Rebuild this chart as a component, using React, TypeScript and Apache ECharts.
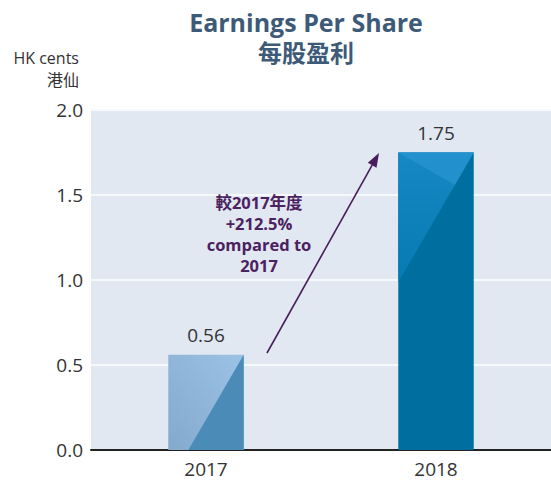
import React, { useEffect, useRef } from "react";
import * as echarts from "echarts";

const categories = ["2017", "2018"];
const epsValues = [0.56, 1.75];
const yTicks = { min: 0, max: 2, interval: 0.5 };
const titleLines = ["Earnings Per Share", "每股盈利"];
const unitLines = ["HK cents", "港仙"];
const noteLines = ["較2017年度", "+212.5%", "compared to", "2017"];

const FONT = "'Open Sans', 'Noto Sans CJK TC', sans-serif";

export default function App() {
  const ref = useRef<HTMLDivElement>(null);
  useEffect(() => {
    if (!ref.current) return;
    const chart = echarts.init(ref.current, undefined, { renderer: "svg" });
    const K = 1.72; // diagonal slope (px down per px left)

    const renderItem = (params: any, api: any) => {
      const idx = api.value(0);
      const val = api.value(1);
      const base = api.coord([idx, 0]);
      const top = api.coord([idx, val]);
      const band = api.size([1, 0])[0];
      const w = band * 0.328;
      const x0 = base[0] - w / 2;
      const x1 = base[0] + w / 2;
      const yT = top[1];
      const yB = base[1];
      const h = yB - yT;
      const children: any[] = [];
      if (params.dataIndex === 0) {
        children.push({
          type: "rect",
          shape: { x: x0, y: yT, width: w, height: h },
          style: {
            fill: new echarts.graphic.LinearGradient(1, 0, 0, 1, [
              { offset: 0, color: "#9cc2e5" },
              { offset: 1, color: "#83a9cd" },
            ]),
          },
        });
        const dx = h / K;
        children.push({
          type: "polygon",
          shape: { points: [[x1, yT], [x1, yB], [x1 - dx, yB]] },
          style: { fill: "#4a8cb7" },
        });
      } else {
        children.push({
          type: "rect",
          shape: { x: x0, y: yT, width: w, height: h },
          style: { fill: "#006f9f" },
        });
        const dy = w * K;
        children.push({
          type: "polygon",
          shape: { points: [[x0, yT], [x1, yT], [x0, yT + dy]] },
          style: {
            fill: new echarts.graphic.LinearGradient(0, 0, 0, 1, [
              { offset: 0, color: "#1688c4" },
              { offset: 1, color: "#067ab2" },
            ]),
          },
        });
        const px = x1 - w * 0.25;
        const py = yT + w * 0.25 * K;
        children.push({
          type: "polygon",
          shape: { points: [[x0, yT], [x1, yT], [px, py]] },
          style: { fill: "#2b98d3", opacity: 0.6 },
        });
      }
      children.push({
        type: "text",
        style: {
          text: val.toFixed(2),
          x: base[0],
          y: yT - 20,
          textAlign: "center",
          textVerticalAlign: "middle",
          fill: "#333333",
          font: `19px ${FONT}`,
        },
      });
      return { type: "group", children };
    };

    // arrow geometry
    const ax0 = 267, ay0 = 353, ax1 = 379, ay1 = 153;
    const len = Math.hypot(ax1 - ax0, ay1 - ay0);
    const ux = (ax1 - ax0) / len, uy = (ay1 - ay0) / len;
    const hl = 14, hw = 5;
    const bx = ax1 - ux * hl, by = ay1 - uy * hl;
    const nx = -uy, ny = ux;

    chart.setOption({
      animation: false,
      textStyle: { fontFamily: FONT },
      title: [
        {
          text: titleLines[0],
          left: 306,
          top: 8,
          padding: 0,
          textAlign: "center",
          textStyle: { fontSize: 25, fontWeight: "bold", color: "#3d5a78", fontFamily: FONT, lineHeight: 28 },
        },
        {
          text: titleLines[1],
          left: 306,
          top: 39,
          padding: 0,
          textAlign: "center",
          textStyle: { fontSize: 24, fontWeight: "bold", color: "#3d5a78", fontFamily: FONT, lineHeight: 27 },
        },
      ],
      grid: {
        left: 91,
        right: -4,
        top: 110,
        bottom: 31,
        show: true,
        backgroundColor: "#e1e8f2",
        borderWidth: 0,
      },
      xAxis: {
        type: "category",
        data: categories,
        axisLine: { show: true, lineStyle: { color: "#222222", width: 2 } },
        axisTick: { show: false },
        axisLabel: { color: "#333333", fontSize: 19, margin: 9, fontFamily: FONT },
      },
      yAxis: {
        type: "value",
        min: yTicks.min,
        max: yTicks.max,
        interval: yTicks.interval,
        axisLine: { show: false },
        axisTick: { show: false },
        splitLine: { show: true, lineStyle: { color: "#f6f9fc", width: 2 } },
        axisLabel: {
          color: "#333333",
          fontSize: 19,
          margin: 8,
          fontFamily: FONT,
          formatter: (v: number) => v.toFixed(1),
        },
      },
      series: [
        {
          type: "custom",
          renderItem,
          data: epsValues.map((v, i) => [i, v]),
          z: 3,
        },
      ],
      graphic: [
        {
          type: "text",
          x: 79,
          y: 58,
          style: {
            text: unitLines[0],
            textAlign: "right",
            textVerticalAlign: "middle",
            fill: "#333333",
            font: `16px ${FONT}`,
          },
        },
        {
          type: "text",
          x: 79,
          y: 80,
          style: {
            text: unitLines[1],
            textAlign: "right",
            textVerticalAlign: "middle",
            fill: "#333333",
            font: `16px ${FONT}`,
          },
        },
        ...noteLines.map((t, i) => ({
          type: "text",
          x: 259,
          y: 202 + i * 21,
          z: 10,
          style: {
            text: t,
            textAlign: "center",
            textVerticalAlign: "middle",
            fill: "#4b215f",
            font: `bold 16.5px ${FONT}`,
          },
        })),
        {
          type: "line",
          z: 10,
          shape: { x1: ax0, y1: ay0, x2: bx, y2: by },
          style: { stroke: "#4a1c5c", lineWidth: 1.6 },
        },
        {
          type: "polygon",
          z: 10,
          shape: {
            points: [
              [ax1, ay1],
              [bx + nx * hw, by + ny * hw],
              [bx - nx * hw, by - ny * hw],
            ],
          },
          style: { fill: "#4a1c5c" },
        },
      ],
    });
    return () => chart.dispose();
  }, []);
  return <div ref={ref} style={{ width: 551, height: 481, position: "absolute", left: 0, top: 0 }} />;
}
